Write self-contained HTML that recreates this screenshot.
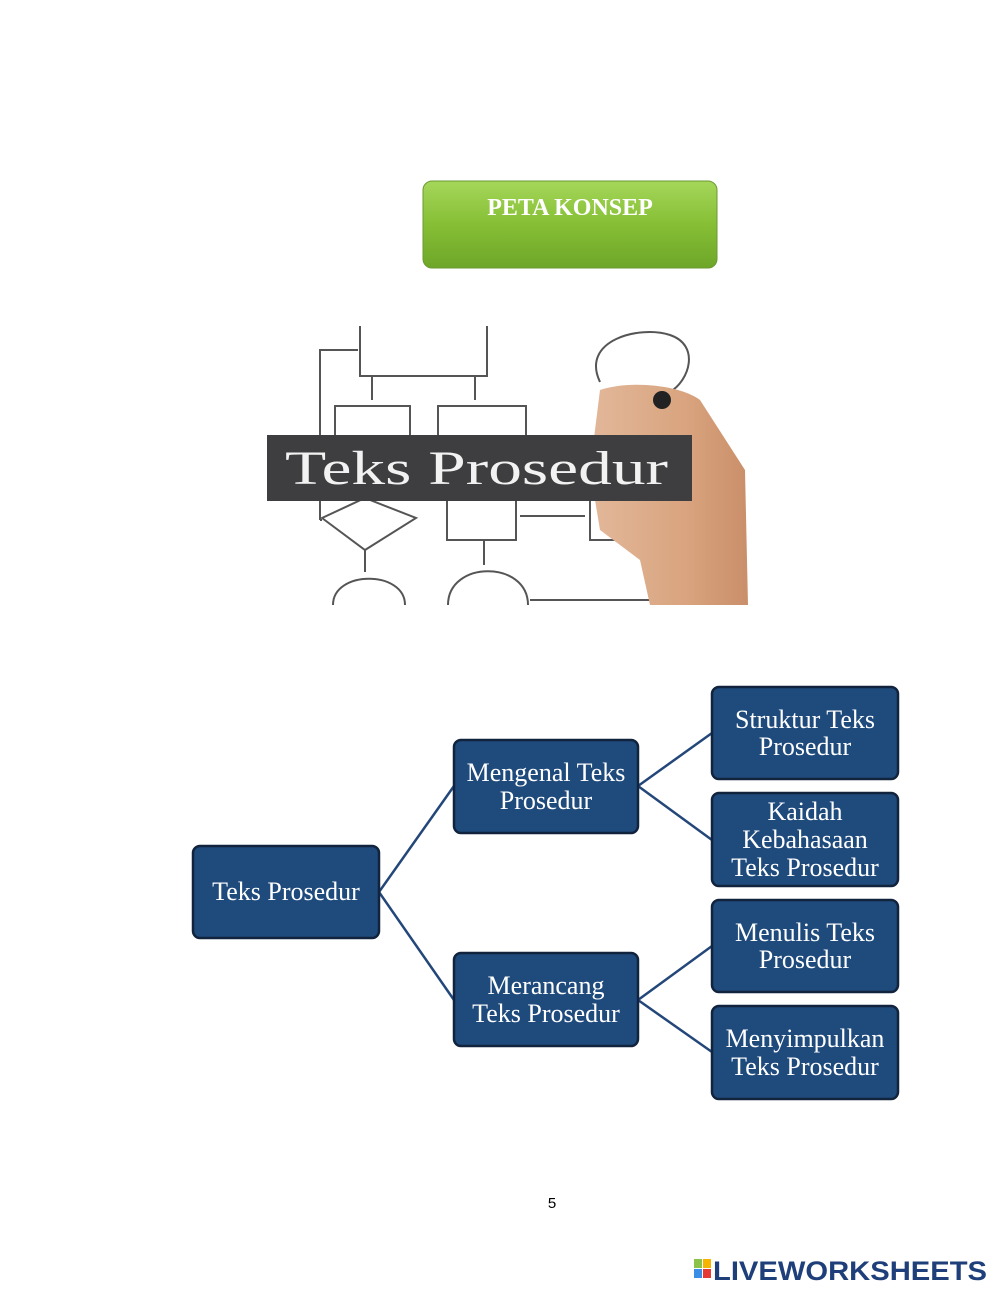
<!DOCTYPE html>
<html><head><meta charset="utf-8"><style>
body{margin:0;background:#fff;}
svg{display:block}
</style></head><body>
<svg width="1000" height="1294" viewBox="0 0 1000 1294" xmlns="http://www.w3.org/2000/svg">
<defs>
<linearGradient id="g" x1="0" y1="0" x2="0" y2="1">
<stop offset="0" stop-color="#a5d65a"/><stop offset="0.5" stop-color="#86bf35"/><stop offset="1" stop-color="#6ea629"/>
</linearGradient>
<linearGradient id="skin" x1="0" y1="0" x2="1" y2="0">
<stop offset="0" stop-color="#e2b89a"/><stop offset="0.6" stop-color="#d9a47f"/><stop offset="1" stop-color="#c98f6a"/>
</linearGradient>
</defs>
<rect x="423" y="181" width="294" height="87" rx="9" fill="url(#g)" stroke="#6a9a30"/>
<text x="570" y="215" text-anchor="middle" font-family="Liberation Serif, serif" font-weight="bold" font-size="24" fill="#fff">PETA KONSEP</text>

<g fill="none" stroke="#555" stroke-width="2">
<path d="M360 326 V376 H487 V326"/>
<path d="M372 376 V400 M475 376 V400"/>
<path d="M335 438 V406 H410 V438 M438 438 V406 H526 V438"/>
<path d="M320 520 V350 H358"/>
<path d="M320 520 H322 M322 518 L365 498 L416 518 L365 550 Z"/>
<path d="M365 550 V572 M447 500 V540 H516 V500 M484 540 V565"/>
<path d="M520 516 H585 M590 500 V540 H705 V500 H690"/>
<path d="M333 605 C333 570 405 570 405 605 M448 605 C448 560 528 560 528 605"/>
<path d="M530 600 H650 V548"/>
<path d="M600 382 C580 340 640 325 670 335 C700 345 690 380 670 392"/>
</g>
<path d="M600 390 C630 380 680 385 700 400 L745 470 L748 605 L650 605 L640 560 L600 530 L590 470 Z" fill="url(#skin)"/>
<circle cx="662" cy="400" r="9" fill="#222"/>
<rect x="267" y="435" width="425" height="66" fill="#3e3e40"/>
<text x="285" y="484" font-family="Liberation Serif, serif" font-size="48" fill="#f2f2f2" textLength="383" lengthAdjust="spacingAndGlyphs">Teks Prosedur</text>

<g stroke="#24477a" stroke-width="2.5" fill="none">
<path d="M379 892 L454 786 M379 892 L454 1000"/>
<path d="M638 786 L712 733 M638 786 L712 840"/>
<path d="M638 1000 L712 946 M638 1000 L712 1052"/>
</g>
<g fill="#1f4a7c" stroke="#11233d" stroke-width="2.5">
<rect x="193" y="846" width="186" height="92" rx="7"/>
<rect x="454" y="740" width="184" height="93" rx="7"/>
<rect x="454" y="953" width="184" height="93" rx="7"/>
<rect x="712" y="687" width="186" height="92" rx="7"/>
<rect x="712" y="793" width="186" height="93" rx="7"/>
<rect x="712" y="900" width="186" height="92" rx="7"/>
<rect x="712" y="1006" width="186" height="93" rx="7"/>
</g>
<g font-family="Liberation Serif, serif" font-size="26" fill="#fff" text-anchor="middle">
<text x="286" y="900">Teks Prosedur</text>
<text x="546" y="781">Mengenal Teks</text><text x="546" y="809">Prosedur</text>
<text x="546" y="994">Merancang</text><text x="546" y="1022">Teks Prosedur</text>
<text x="805" y="728">Struktur Teks</text><text x="805" y="755">Prosedur</text>
<text x="805" y="820">Kaidah</text><text x="805" y="848">Kebahasaan</text><text x="805" y="876">Teks Prosedur</text>
<text x="805" y="941">Menulis Teks</text><text x="805" y="968">Prosedur</text>
<text x="805" y="1047">Menyimpulkan</text><text x="805" y="1075">Teks Prosedur</text>
</g>
<text x="552" y="1208" text-anchor="middle" font-family="Liberation Sans, sans-serif" font-size="15" fill="#000">5</text>

<rect x="694" y="1259" width="8" height="9" fill="#8bc34a"/><rect x="703" y="1259" width="8" height="9" fill="#f5b400"/>
<rect x="694" y="1269" width="8" height="9" fill="#3a8ee6"/><rect x="703" y="1269" width="8" height="9" fill="#e53935"/>
<text x="713" y="1280" font-family="Liberation Sans, sans-serif" font-weight="bold" font-size="27" fill="#1e3f7a" textLength="274" lengthAdjust="spacingAndGlyphs">LIVEWORKSHEETS</text>
</svg>
</body></html>
